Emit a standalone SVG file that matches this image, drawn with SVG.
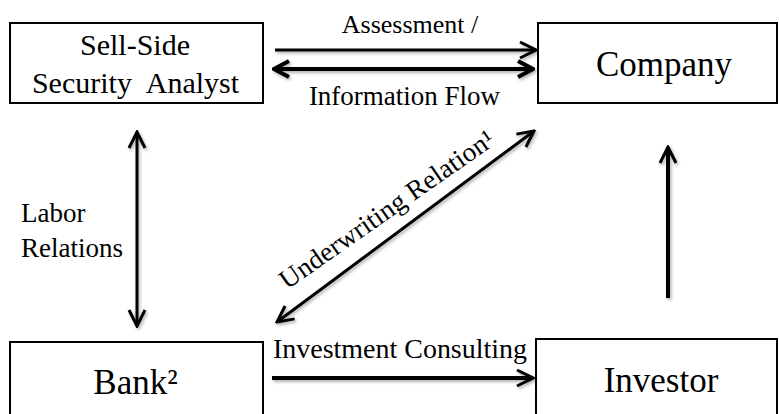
<svg xmlns="http://www.w3.org/2000/svg" width="779" height="414" viewBox="0 0 779 414">
  <style>
    .box { fill: #ffffff; stroke: #000000; stroke-width: 2; }
    .t { font-family: 'Liberation Serif', 'Times New Roman', serif; fill: #000000; }
    .link { stroke: #000000; fill: none; }
  </style>
  <defs>
    <filter id="shade" x="-10%" y="-50%" width="120%" height="200%">
      <feDropShadow dx="1.5" dy="2" stdDeviation="1.5" flood-color="#000000" flood-opacity="0.3"/>
    </filter>
    <marker id="head" viewBox="-20 -11 22 22" refX="0" refY="0" markerWidth="22" markerHeight="22" markerUnits="userSpaceOnUse" orient="auto-start-reverse">
      <path d="M-16,-8 L0,0 L-16,8" fill="none" stroke="#000000" stroke-width="3"/>
    </marker>
    <marker id="headBold" viewBox="-20 -11 22 22" refX="0" refY="0" markerWidth="22" markerHeight="22" markerUnits="userSpaceOnUse" orient="auto-start-reverse">
      <path d="M-15,-8 L0,0 L-15,8" fill="none" stroke="#000000" stroke-width="4"/>
    </marker>
  </defs>

  <rect width="779" height="414" fill="#ffffff"/>

  <!-- connectors -->
  <g id="connectors">
    <g filter="url(#shade)">
      <line class="link" x1="275" y1="50" x2="536" y2="50" stroke-width="3" marker-end="url(#head)"/>
      <line class="link" x1="274" y1="69" x2="533" y2="69" stroke-width="4" marker-start="url(#headBold)" marker-end="url(#headBold)"/>
      <line class="link" x1="137" y1="132" x2="137" y2="326" stroke-width="3" marker-start="url(#head)" marker-end="url(#head)"/>
      <line class="link" x1="277" y1="322" x2="534" y2="131" stroke-width="3" marker-start="url(#head)" marker-end="url(#head)"/>
      <line class="link" x1="272" y1="378" x2="533" y2="378" stroke-width="4" marker-end="url(#head)"/>
      <line class="link" x1="668" y1="298" x2="668" y2="147" stroke-width="4" marker-end="url(#head)"/>
    </g>
    <text class="t" x="410" y="33" font-size="26" text-anchor="middle">Assessment /</text>
    <text class="t" x="404.5" y="105" font-size="27" text-anchor="middle">Information Flow</text>
    <text class="t" x="21" y="222" font-size="27">Labor</text>
    <text class="t" x="21" y="257" font-size="27">Relations</text>
    <text class="t" x="400" y="358" font-size="28" text-anchor="middle" textLength="254" lengthAdjust="spacingAndGlyphs">Investment Consulting</text>
    <text class="t" font-size="27" transform="translate(287,290) rotate(-35)" textLength="256" lengthAdjust="spacingAndGlyphs">Underwriting Relation¹</text>
  </g>

  <!-- nodes -->
  <g id="analyst">
    <rect class="box" x="10" y="23" width="253" height="80"/>
    <text class="t" x="135" y="55" font-size="30" text-anchor="middle">Sell-Side</text>
    <text class="t" x="135.5" y="93" font-size="30" text-anchor="middle" word-spacing="8">Security Analyst</text>
  </g>
  <g id="company">
    <rect class="box" x="538" y="23" width="239" height="80"/>
    <text class="t" x="664" y="76" font-size="35" text-anchor="middle">Company</text>
  </g>
  <g id="bank">
    <rect class="box" x="10" y="342" width="253" height="90"/>
    <text class="t" x="135.5" y="394" font-size="35" text-anchor="middle">Bank²</text>
  </g>
  <g id="investor">
    <rect class="box" x="536" y="339" width="241" height="90"/>
    <text class="t" x="661" y="392" font-size="35" text-anchor="middle">Investor</text>
  </g>
</svg>
